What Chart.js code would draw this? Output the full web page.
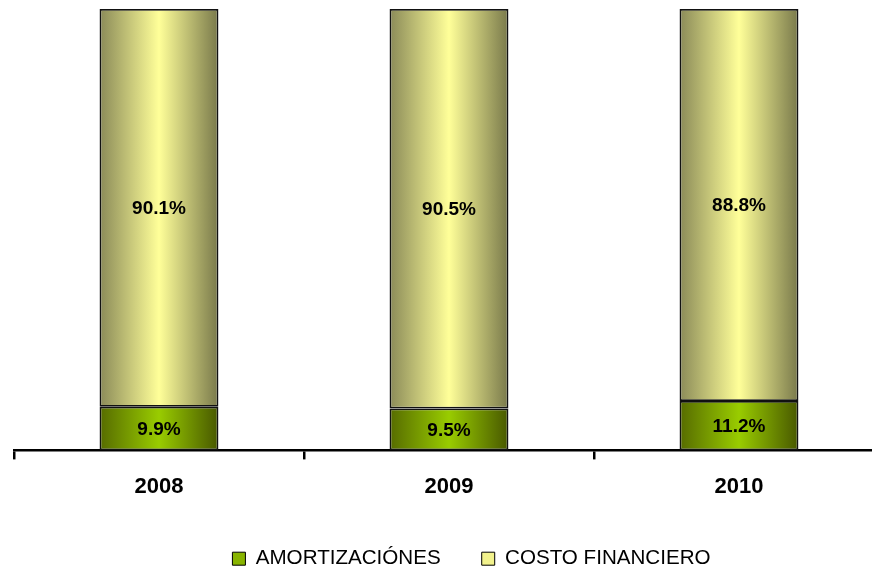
<!DOCTYPE html>
<html>
<head>
<meta charset="utf-8">
<script src="https://cdn.jsdelivr.net/npm/chart.js@4.4.0/dist/chart.umd.min.js"></script>
<style>
  html, body { margin: 0; padding: 0; overflow: hidden; background: #fff; }
  #wrap { width: 872px; height: 567px; overflow: hidden; }
</style>
</head>
<body>
<div id="wrap"><canvas id="chart" width="929" height="579"></canvas></div>
<script>
const years = ['2008', '2009', '2010'];
const amortizaciones = [9.9, 9.5, 11.2];
const costoFinanciero = [90.1, 90.5, 88.8];

const BAR_PCT = 0.41;
const greenStops = ['#566b00', '#99cc00', '#485800'];
const khakiStops = ['#8a8a58', '#ffff99', '#79794b'];

function barGradient(context, stops) {
    const chart = context.chart;
    const area = chart.chartArea;
    if (!area) return stops[1];
    const xs = chart.scales.x;
    const cx = xs.getPixelForValue(context.dataIndex);
    const half = (xs.width / years.length) * BAR_PCT / 2;
    const g = chart.ctx.createLinearGradient(cx - half, 0, cx + half, 0);
    g.addColorStop(0, stops[0]);
    g.addColorStop(0.5, stops[1]);
    g.addColorStop(1, stops[2]);
    return g;
}

const valueLabels = {
    id: 'valueLabels',
    afterDatasetsDraw(chart) {
        const ctx = chart.ctx;
        ctx.save();
        ctx.font = 'bold 19px Arial';
        ctx.fillStyle = '#000';
        ctx.textAlign = 'center';
        ctx.textBaseline = 'middle';
        chart.data.datasets.forEach((ds, i) => {
            chart.getDatasetMeta(i).data.forEach((bar, j) => {
                const p = bar.getProps(['x', 'y', 'base'], true);
                ctx.fillText(ds.data[j].toFixed(1) + '%', p.x, (p.y + p.base) / 2 + 1);
            });
        });
        ctx.restore();
    }
};

new Chart(document.getElementById('chart').getContext('2d'), {
    type: 'bar',
    data: {
        labels: years,
        datasets: [
            {
                label: 'AMORTIZACIÓNES',
                data: amortizaciones,
                backgroundColor: c => barGradient(c, greenStops),
                borderColor: '#111',
                borderWidth: 1.8,
                borderSkipped: false,
                categoryPercentage: 1,
                barPercentage: BAR_PCT,
            },
            {
                label: 'COSTO FINANCIERO',
                data: costoFinanciero,
                backgroundColor: c => barGradient(c, khakiStops),
                borderColor: '#111',
                borderWidth: 1.8,
                borderSkipped: false,
                categoryPercentage: 1,
                barPercentage: BAR_PCT,
            }
        ]
    },
    options: {
        responsive: false,
        animation: false,
        devicePixelRatio: 1,
        layout: { padding: { top: 9, left: 14, right: 0, bottom: 0 } },
        scales: {
            x: {
                stacked: true,
                grid: { display: true, drawOnChartArea: false, color: '#000', lineWidth: 2.5, tickLength: 9 },
                border: { display: true, color: '#000', width: 2.5 },
                ticks: { color: '#000', font: { family: 'Arial', size: 22, weight: 'bold' }, padding: 14 },
                afterFit: s => { s.height = 57; }
            },
            y: {
                stacked: true,
                position: 'right',
                min: 0,
                max: 100,
                grid: { display: false },
                border: { display: false },
                ticks: { display: false },
                afterFit: s => { s.width = 45; }
            }
        },
        plugins: {
            tooltip: { enabled: false },
            legend: {
                position: 'bottom',
                labels: {
                    color: '#000',
                    font: { family: 'Arial', size: 20.6 },
                    boxWidth: 13,
                    boxHeight: 13,
                    padding: 41,
                    generateLabels: () => [
                        { text: 'AMORTIZACIÓNES', fillStyle: '#88b400', strokeStyle: '#000', lineWidth: 1, datasetIndex: 0 },
                        { text: 'COSTO FINANCIERO', fillStyle: '#f2f28c', strokeStyle: '#000', lineWidth: 1, datasetIndex: 1 }
                    ]
                }
            }
        }
    },
    plugins: [valueLabels]
});
</script>
</body>
</html>
